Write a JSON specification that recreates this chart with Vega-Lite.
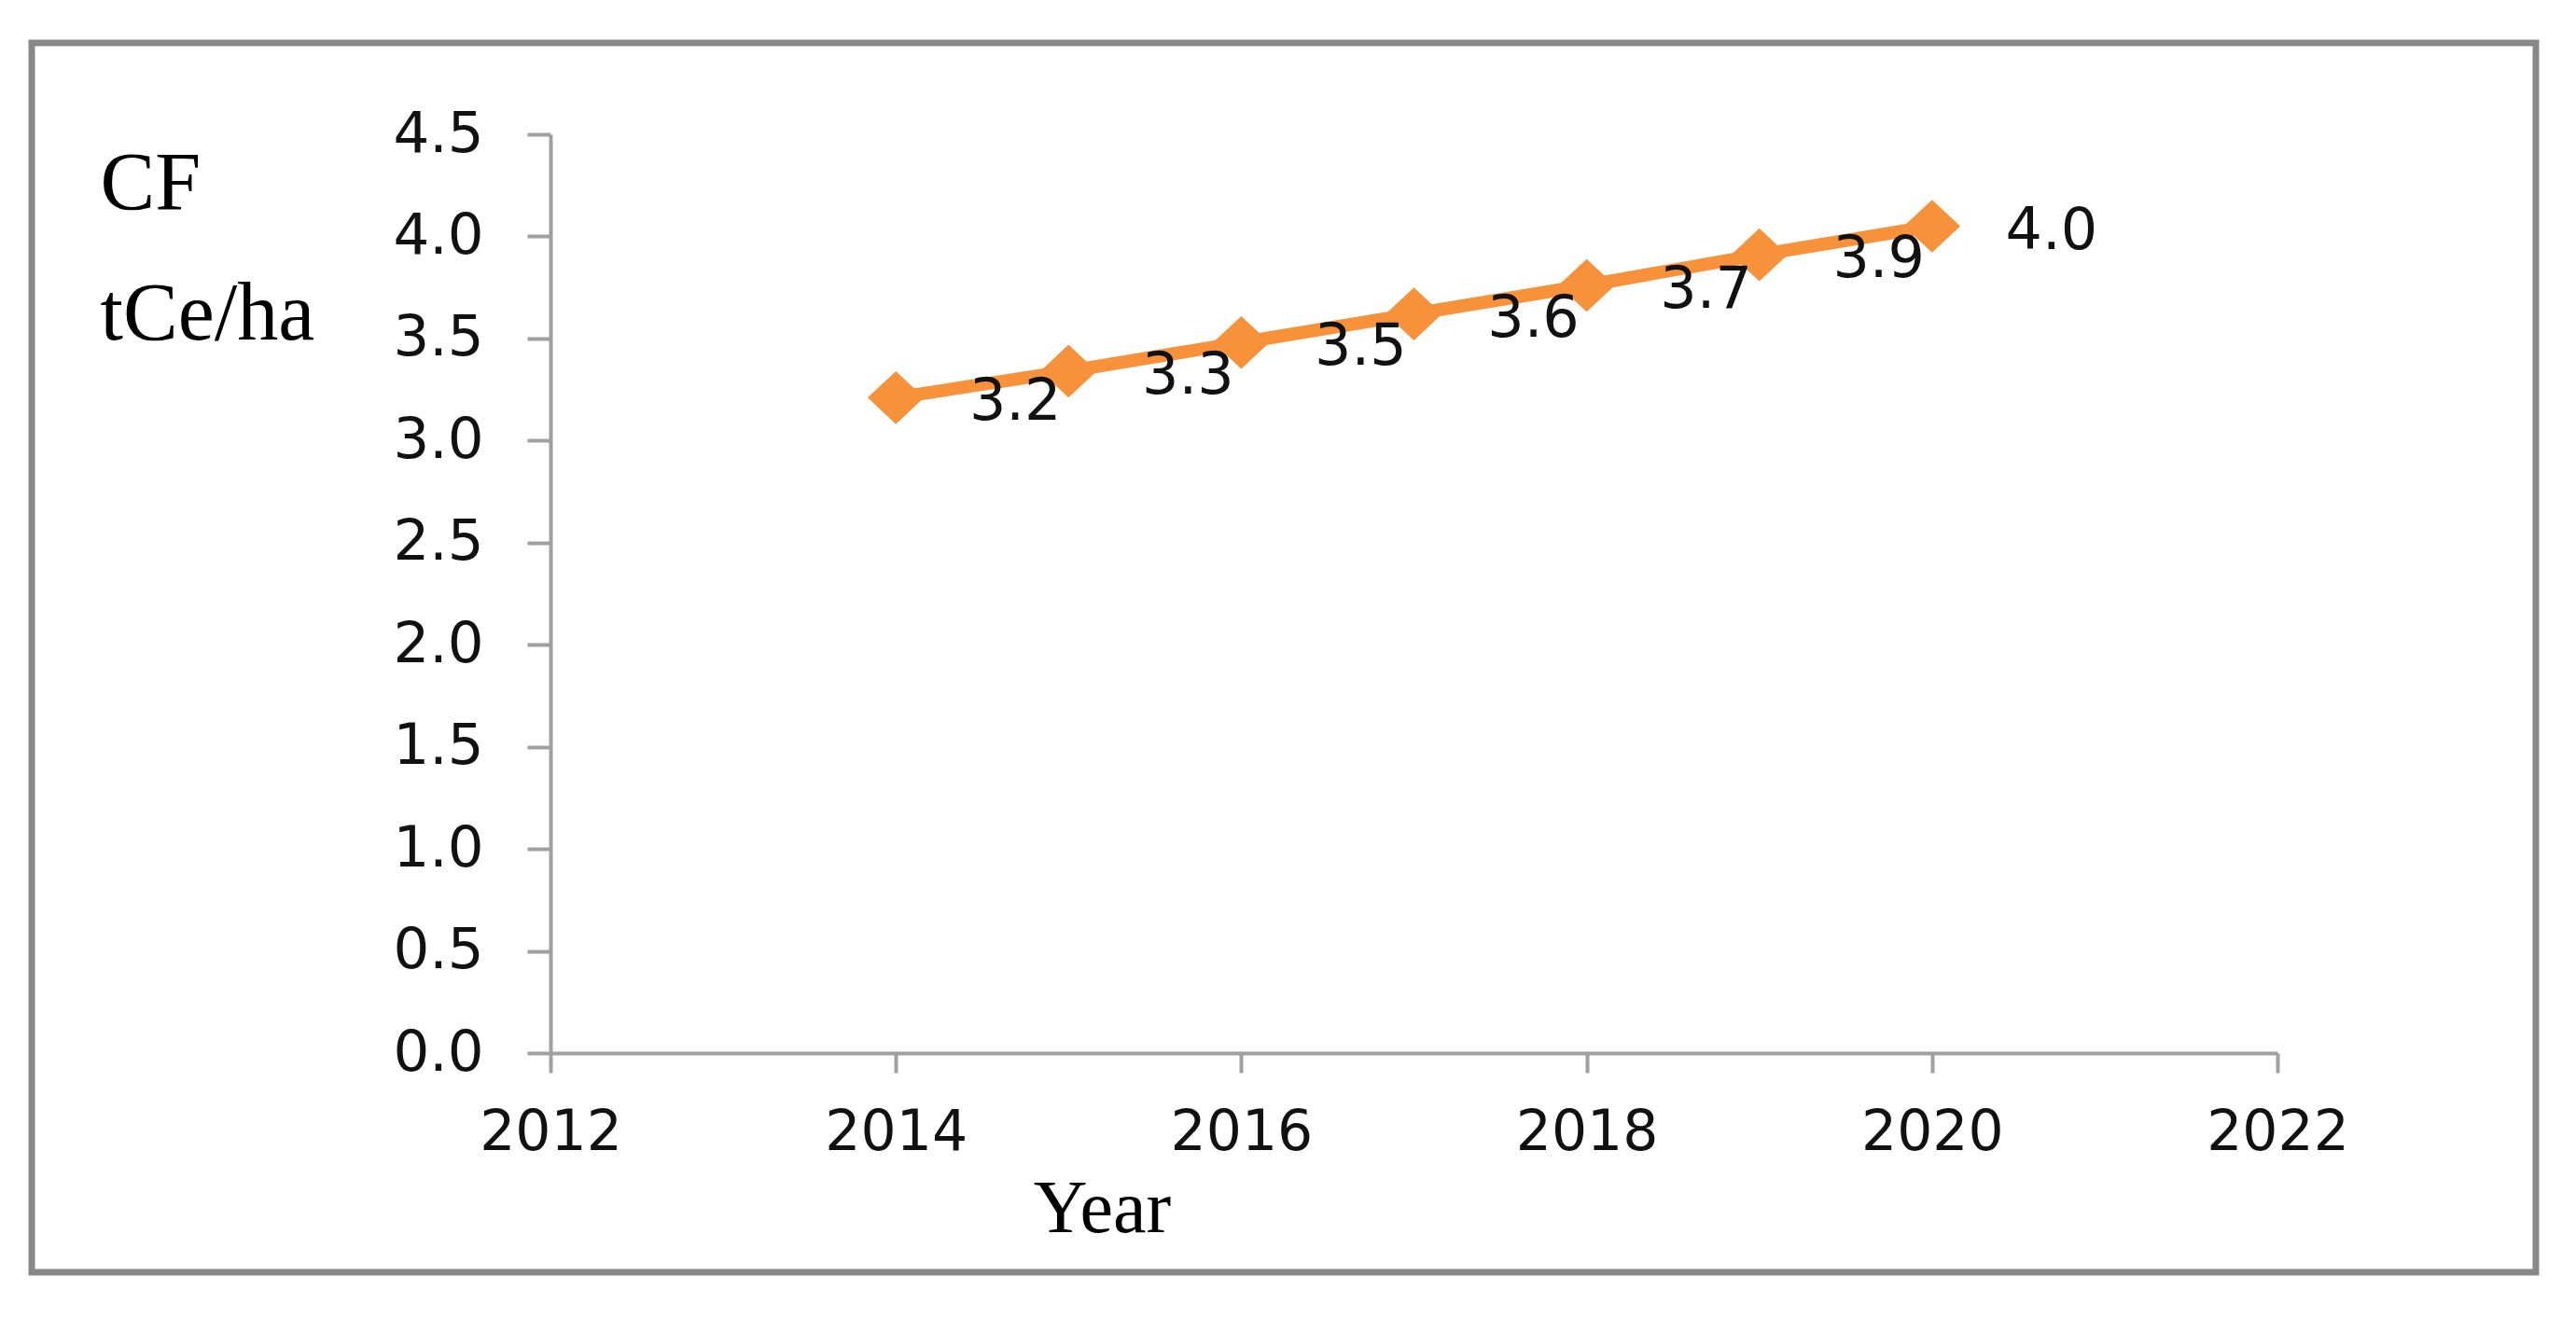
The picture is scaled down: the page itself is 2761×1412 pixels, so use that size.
{
  "$schema": "https://vega.github.io/schema/vega-lite/v6.json",
  "autosize": "none",
  "width": 2684,
  "height": 1318,
  "padding": {"left": 34, "top": 46, "right": 43, "bottom": 48},
  "background": "white",
  "config": {
    "view": {"stroke": "#888888", "strokeWidth": 7, "fill": "white"},
    "axis": {"grid": false, "domainColor": "#A0A0A0", "domainWidth": 4, "tickColor": "#A0A0A0", "tickWidth": 4, "labelColor": "#111111", "titleColor": "#000000", "labelFlush": false}
  },
  "data": {
    "values": [
      {"year": 2014, "cf": 3.21, "label": "3.2"},
      {"year": 2015, "cf": 3.34, "label": "3.3"},
      {"year": 2016, "cf": 3.48, "label": "3.5"},
      {"year": 2017, "cf": 3.62, "label": "3.6"},
      {"year": 2018, "cf": 3.76, "label": "3.7"},
      {"year": 2019, "cf": 3.91, "label": "3.9"},
      {"year": 2020, "cf": 4.05, "label": "4.0"}
    ]
  },
  "encoding": {
    "x": {
      "field": "year", "type": "quantitative",
      "scale": {"domain": [2012, 2022], "range": [556, 2407], "nice": false, "zero": false},
      "axis": {
        "values": [2012, 2014, 2016, 2018, 2020, 2022], "format": "d",
        "offset": -235, "tickSize": 21,
        "labelFont": "DejaVu Sans", "labelFontSize": 60, "labelPadding": 35,
        "title": "Year", "titleFont": "Liberation Serif", "titleFontSize": 80, "titleFontWeight": "normal",
        "titleX": 1147, "titleY": 191, "titleAlign": "center", "titleBaseline": "alphabetic"
      }
    },
    "y": {
      "field": "cf", "type": "quantitative",
      "scale": {"domain": [0, 4.5], "range": [1083, 98], "nice": false, "zero": true},
      "axis": {
        "values": [0, 0.5, 1, 1.5, 2, 2.5, 3, 3.5, 4, 4.5], "format": ".1f",
        "offset": -556, "tickSize": 25,
        "labelFont": "DejaVu Sans", "labelFontSize": 61, "labelPadding": 47,
        "title": ["CF", "tCe/ha"], "titleFont": "Liberation Serif", "titleFontSize": 88, "titleFontWeight": "normal",
        "titleAngle": 0, "titleAlign": "left", "titleBaseline": "alphabetic", "titleLineHeight": 140,
        "titleX": -483, "titleY": 177
      }
    }
  },
  "layer": [
    {"mark": {"type": "line", "color": "#F7923A", "strokeWidth": 14}},
    {"mark": {"type": "point", "shape": "M-1.1,0L0,-1.03L1.1,0L0,1.03Z", "size": 3025, "filled": true, "color": "#F7923A", "opacity": 1}},
    {"mark": {"type": "text", "font": "DejaVu Sans", "fontSize": 62, "dx": 128, "dy": 5, "align": "center", "baseline": "middle", "color": "#111111"},
     "encoding": {"text": {"field": "label"}}}
  ]
}
